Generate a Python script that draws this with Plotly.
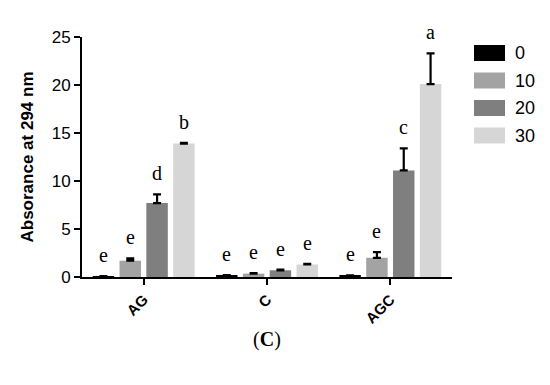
import plotly.graph_objects as go

categories = ["AG", "C", "AGC"]
series_names = ["0", "10", "20", "30"]
colors = ["#000000", "#a3a3a3", "#7f7f7f", "#d6d6d6"]

values_0 = [0.08, 0.18, 0.15]
values_10 = [1.7, 0.35, 2.0]
values_20 = [7.7, 0.7, 11.1]
values_30 = [13.9, 1.3, 20.1]

err_0 = [0.02, 0.03, 0.03]
err_10 = [0.25, 0.05, 0.6]
err_20 = [0.9, 0.08, 2.3]
err_30 = [0.08, 0.08, 3.2]

letters_0 = ["e", "e", "e"]
letters_10 = ["e", "e", "e"]
letters_20 = ["d", "e", "c"]
letters_30 = ["b", "e", "a"]

values = [values_0, values_10, values_20, values_30]
errors = [err_0, err_10, err_20, err_30]
letters = [letters_0, letters_10, letters_20, letters_30]

fig = go.Figure()
for name, col, v, e in zip(series_names, colors, values, errors):
    fig.add_trace(go.Bar(
        x=categories, y=v, name=name, showlegend=False,
        marker=dict(color=col, line=dict(width=0)),
        error_y=dict(type="data", symmetric=False, array=e,
                     arrayminus=[0] * len(e), color="black",
                     thickness=2.2, width=4),
    ))

# layout geometry (page body adds an 8px offset)
OFF = 8
W, H = 550 - OFF, 385 - OFF
L, R, T, B = 82 - OFF, 98, 37 - OFF, 108
bargap = 0.13
groupgap = 0.2
plot_w = W - L - R
plot_h = H - T - B
cat_w = plot_w / 3.0
group_w = cat_w * (1 - bargap)
slot = group_w / 4.0

annotations = []
for si in range(4):
    for ci, cat in enumerate(categories):
        xshift = (si - 1.5) * slot
        annotations.append(dict(
            x=cat, y=values[si][ci] + errors[si][ci], xref="x", yref="y",
            text=letters[si][ci], showarrow=False, xshift=xshift,
            yanchor="bottom", yshift=8,
            font=dict(family="Liberation Serif, Times New Roman, serif",
                      size=20, color="black"),
        ))

annotations.append(dict(
    x=0.5, y=-0.26, xref="paper", yref="paper", xanchor="center", yanchor="middle",
    text="(<b>C</b>)", showarrow=False,
    font=dict(family="Liberation Serif, Times New Roman, serif", size=20, color="black"),
))

# legend: wide swatches with labels, placed in the right margin
shapes = []
box_x0 = (474 - OFF - L) / plot_w
box_x1 = (505 - OFF - L) / plot_w
label_x = (513 - OFF - L) / plot_w
row_h = 27.5 / plot_h
box_h = 16 / plot_h
first_row = (H - B - (53 - OFF)) / plot_h
for i, (name, col) in enumerate(zip(series_names, colors)):
    yc = first_row - i * row_h
    shapes.append(dict(type="rect", xref="paper", yref="paper",
                       x0=box_x0, x1=box_x1, y0=yc - box_h / 2, y1=yc + box_h / 2,
                       fillcolor=col, line=dict(width=0)))
    annotations.append(dict(x=label_x, y=yc, xref="paper", yref="paper",
                            xanchor="left", yanchor="middle", text=name,
                            showarrow=False,
                            font=dict(size=18, family="Liberation Sans, Arial, sans-serif",
                                      color="black")))

fig.update_layout(
    width=W, height=H,
    margin=dict(l=L, r=R, t=T, b=B, autoexpand=False),
    paper_bgcolor="white", plot_bgcolor="white",
    barmode="group", bargap=bargap, bargroupgap=groupgap,
    font=dict(family="Liberation Sans, Arial, sans-serif", color="black"),
    showlegend=False,
    annotations=annotations,
    shapes=shapes,
)
fig.update_xaxes(
    range=[-0.5, 2.5], showline=True, linecolor="black", linewidth=2,
    ticks="outside", ticklen=6, tickwidth=2, tickcolor="black",
    tickangle=-45, showgrid=False, zeroline=False, automargin=False,
    tickfont=dict(size=15, family="Liberation Sans, Arial, sans-serif"),
    tickprefix="<b>", ticksuffix="</b>",
)
fig.update_yaxes(
    range=[0, 25], tickvals=[0, 5, 10, 15, 20, 25],
    showline=True, linecolor="black", linewidth=2,
    ticks="outside", ticklen=6, tickwidth=2, tickcolor="black",
    showgrid=False, zeroline=False, automargin=False,
    tickfont=dict(size=17, family="Liberation Sans, Arial, sans-serif"),
    tickprefix="<b>", ticksuffix="</b>",
    title=dict(text="<b>Absorance at 294 nm</b>", standoff=14,
               font=dict(size=17, family="Liberation Sans, Arial, sans-serif")),
)

fig.write_html("out.html")
